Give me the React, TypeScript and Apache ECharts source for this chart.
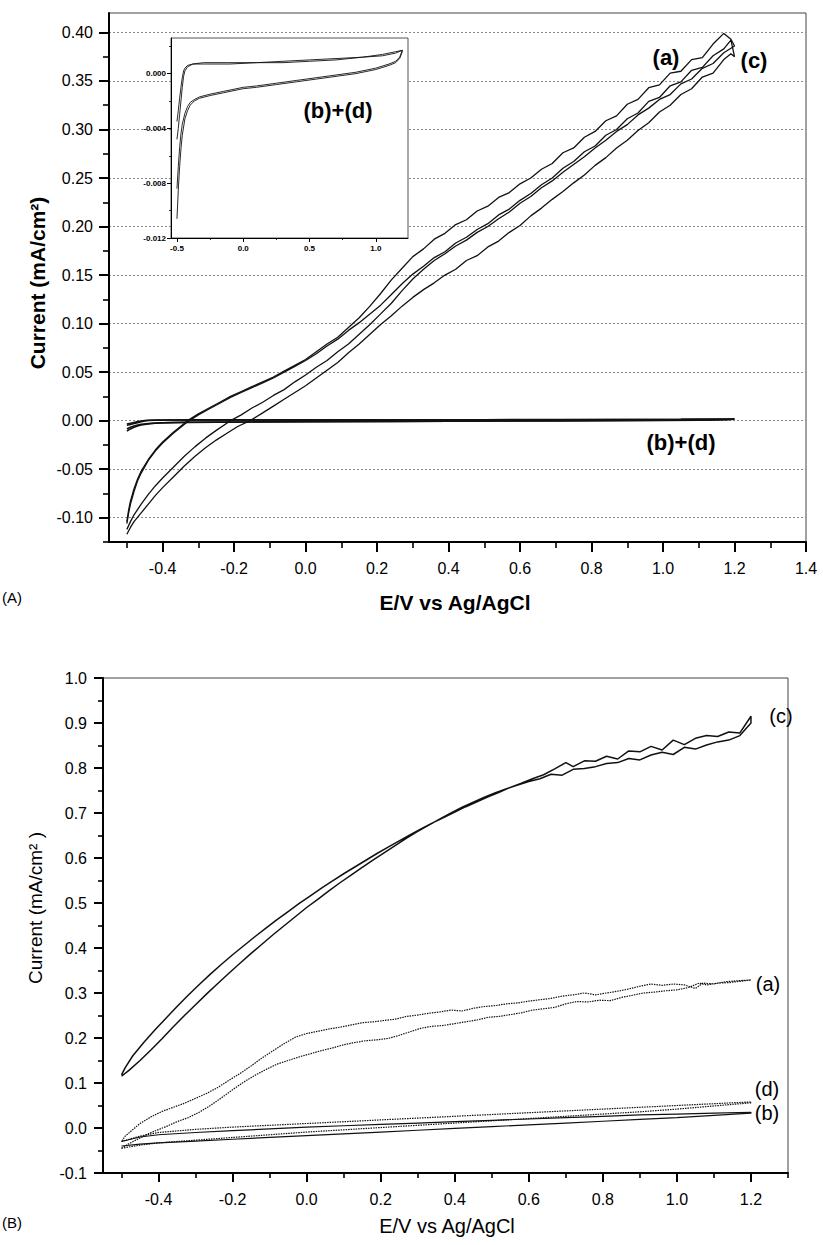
import React, { useEffect, useRef } from "react";
import * as echarts from "echarts";

type P = [number, number];
const FONT = "'Liberation Sans', Arial, Helvetica, sans-serif";

// ---------- Panel A: (a) and (c) cyclic voltammograms ----------
const aFwdA: P[] = [[-0.50,-0.112],[-0.49,-0.104],[-0.48,-0.097],[-0.46,-0.086],[-0.44,-0.076],[-0.42,-0.067],[-0.40,-0.059],[-0.37,-0.048],[-0.34,-0.037],[-0.31,-0.027],[-0.28,-0.018],[-0.25,-0.010],[-0.21,0.000],[-0.18,0.006],[-0.15,0.013],[-0.12,0.019],[-0.09,0.026],[-0.06,0.032],[-0.03,0.040],[0.00,0.047],[0.03,0.055],[0.06,0.062],[0.09,0.071],[0.12,0.079],[0.15,0.089],[0.18,0.099],[0.21,0.110],[0.24,0.121],[0.27,0.134],[0.30,0.146],[0.33,0.156],[0.36,0.165],[0.39,0.172],[0.42,0.180],[0.45,0.186],[0.48,0.194],[0.51,0.200],[0.54,0.208],[0.57,0.215],[0.60,0.224],[0.63,0.231],[0.66,0.240],[0.69,0.247],[0.72,0.256],[0.75,0.264],[0.78,0.272],[0.81,0.281],[0.84,0.289],[0.87,0.298],[0.90,0.305],[0.93,0.315],[0.96,0.322],[0.99,0.331],[1.02,0.336],[1.05,0.347],[1.08,0.352],[1.11,0.363],[1.14,0.368],[1.17,0.379],[1.20,0.386]];
const aRevA: P[] = [[-0.50,-0.104],[-0.495,-0.092],[-0.49,-0.083],[-0.48,-0.070],[-0.47,-0.060],[-0.46,-0.052],[-0.44,-0.040],[-0.42,-0.030],[-0.40,-0.022],[-0.37,-0.012],[-0.33,0.000],[-0.30,0.007],[-0.27,0.013],[-0.24,0.019],[-0.21,0.025],[-0.18,0.030],[-0.15,0.035],[-0.12,0.040],[-0.09,0.045],[-0.06,0.051],[-0.03,0.057],[0.00,0.063],[0.03,0.071],[0.06,0.079],[0.09,0.086],[0.12,0.096],[0.15,0.106],[0.18,0.118],[0.21,0.131],[0.24,0.145],[0.27,0.157],[0.30,0.169],[0.33,0.177],[0.36,0.187],[0.39,0.193],[0.42,0.202],[0.45,0.207],[0.48,0.216],[0.51,0.221],[0.54,0.230],[0.57,0.235],[0.60,0.244],[0.63,0.250],[0.66,0.259],[0.69,0.265],[0.72,0.276],[0.75,0.281],[0.78,0.292],[0.81,0.298],[0.84,0.309],[0.87,0.314],[0.90,0.326],[0.93,0.331],[0.96,0.343],[0.99,0.346],[1.02,0.358],[1.05,0.360],[1.08,0.372],[1.11,0.374],[1.14,0.388],[1.17,0.399],[1.19,0.393],[1.20,0.386]];
const cFwdA: P[] = [[-0.50,-0.117],[-0.49,-0.110],[-0.48,-0.104],[-0.46,-0.095],[-0.44,-0.086],[-0.42,-0.077],[-0.40,-0.069],[-0.37,-0.058],[-0.34,-0.047],[-0.31,-0.037],[-0.28,-0.028],[-0.25,-0.020],[-0.22,-0.013],[-0.19,-0.006],[-0.155,0.000],[-0.12,0.008],[-0.09,0.015],[-0.06,0.022],[-0.03,0.029],[0.00,0.036],[0.03,0.044],[0.06,0.052],[0.09,0.060],[0.12,0.070],[0.15,0.079],[0.18,0.089],[0.21,0.099],[0.24,0.108],[0.27,0.118],[0.30,0.127],[0.33,0.135],[0.36,0.142],[0.39,0.150],[0.42,0.156],[0.45,0.165],[0.48,0.170],[0.51,0.179],[0.54,0.185],[0.57,0.194],[0.60,0.201],[0.63,0.211],[0.66,0.219],[0.69,0.228],[0.72,0.236],[0.75,0.245],[0.78,0.253],[0.81,0.263],[0.84,0.271],[0.87,0.281],[0.90,0.289],[0.93,0.299],[0.96,0.307],[0.99,0.318],[1.02,0.325],[1.05,0.336],[1.08,0.342],[1.11,0.354],[1.14,0.358],[1.17,0.372],[1.19,0.378],[1.20,0.375]];
const cRevA: P[] = [[-0.50,-0.106],[-0.495,-0.095],[-0.49,-0.086],[-0.48,-0.073],[-0.47,-0.062],[-0.46,-0.054],[-0.44,-0.041],[-0.42,-0.031],[-0.40,-0.023],[-0.37,-0.013],[-0.33,-0.001],[-0.30,0.006],[-0.27,0.012],[-0.24,0.018],[-0.21,0.024],[-0.18,0.029],[-0.15,0.034],[-0.12,0.039],[-0.09,0.044],[-0.06,0.050],[-0.03,0.056],[0.00,0.062],[0.03,0.069],[0.06,0.077],[0.09,0.084],[0.12,0.093],[0.15,0.101],[0.18,0.110],[0.21,0.119],[0.24,0.130],[0.27,0.141],[0.30,0.151],[0.33,0.159],[0.36,0.168],[0.39,0.174],[0.42,0.183],[0.45,0.189],[0.48,0.197],[0.51,0.203],[0.54,0.212],[0.57,0.218],[0.60,0.227],[0.63,0.234],[0.66,0.243],[0.69,0.250],[0.72,0.260],[0.75,0.267],[0.78,0.277],[0.81,0.283],[0.84,0.294],[0.87,0.300],[0.90,0.311],[0.93,0.317],[0.96,0.329],[0.99,0.333],[1.02,0.345],[1.05,0.349],[1.08,0.361],[1.11,0.364],[1.14,0.376],[1.17,0.383],[1.19,0.392],[1.20,0.375]];

// ---------- Panel A: (b) and (d), also shown in the inset ----------
const bFwdA: P[] = [[-0.50,-0.0106],[-0.49,-0.0085],[-0.48,-0.0068],[-0.47,-0.0055],[-0.46,-0.0045],[-0.44,-0.0033],[-0.42,-0.0027],[-0.40,-0.0023],[-0.37,-0.0020],[-0.33,-0.0018],[-0.25,-0.0016],[-0.15,-0.0014],[0.00,-0.0011],[0.10,-0.0010],[0.25,-0.0008],[0.40,-0.0006],[0.55,-0.0004],[0.70,-0.0002],[0.85,0.0000],[1.00,0.0003],[1.10,0.0006],[1.15,0.0008],[1.18,0.0011],[1.20,0.0016]];
const bRevA: P[] = [[-0.50,-0.0048],[-0.49,-0.0040],[-0.48,-0.0030],[-0.47,-0.0020],[-0.46,-0.0010],[-0.45,-0.0002],[-0.44,0.0002],[-0.42,0.0005],[-0.38,0.0007],[-0.30,0.0008],[-0.10,0.0008],[0.10,0.0008],[0.30,0.0009],[0.50,0.0010],[0.70,0.0011],[0.90,0.0012],[1.05,0.0014],[1.15,0.0016],[1.20,0.0017]];
const dFwdA: P[] = [[-0.50,-0.0084],[-0.49,-0.0068],[-0.48,-0.0054],[-0.47,-0.0044],[-0.46,-0.0037],[-0.44,-0.0029],[-0.42,-0.0024],[-0.40,-0.0021],[-0.37,-0.0019],[-0.33,-0.0017],[-0.25,-0.0015],[-0.15,-0.0013],[0.00,-0.0010],[0.10,-0.0009],[0.25,-0.0007],[0.40,-0.0005],[0.55,-0.0003],[0.70,-0.0001],[0.85,0.0001],[1.00,0.0004],[1.10,0.0007],[1.15,0.0009],[1.18,0.0012],[1.20,0.0017]];
const dRevA: P[] = [[-0.50,-0.0035],[-0.49,-0.0027],[-0.48,-0.0018],[-0.47,-0.0010],[-0.46,-0.0003],[-0.45,0.0002],[-0.44,0.0004],[-0.42,0.0006],[-0.38,0.0007],[-0.30,0.0007],[-0.10,0.0007],[0.10,0.0008],[0.30,0.0008],[0.50,0.0009],[0.70,0.0010],[0.90,0.0012],[1.05,0.0013],[1.15,0.0015],[1.20,0.0017]];

// ---------- Panel B ----------
const cFwdB: P[] = [[-0.50,0.115],[-0.48,0.128],[-0.45,0.150],[-0.42,0.174],[-0.39,0.199],[-0.36,0.225],[-0.33,0.250],[-0.30,0.274],[-0.27,0.298],[-0.24,0.321],[-0.21,0.344],[-0.18,0.366],[-0.15,0.388],[-0.12,0.409],[-0.09,0.430],[-0.06,0.450],[-0.03,0.470],[0.00,0.490],[0.03,0.508],[0.06,0.527],[0.09,0.545],[0.12,0.562],[0.15,0.579],[0.18,0.596],[0.21,0.612],[0.24,0.628],[0.27,0.644],[0.30,0.659],[0.33,0.673],[0.36,0.687],[0.39,0.700],[0.42,0.713],[0.45,0.724],[0.48,0.735],[0.51,0.745],[0.54,0.754],[0.57,0.762],[0.60,0.770],[0.63,0.776],[0.66,0.786],[0.69,0.784],[0.72,0.797],[0.75,0.799],[0.78,0.803],[0.81,0.810],[0.84,0.812],[0.87,0.821],[0.90,0.818],[0.93,0.829],[0.96,0.835],[0.99,0.830],[1.02,0.846],[1.05,0.842],[1.08,0.851],[1.11,0.858],[1.14,0.862],[1.17,0.872],[1.20,0.900]];
const cRevB: P[] = [[-0.50,0.118],[-0.49,0.134],[-0.47,0.160],[-0.44,0.190],[-0.41,0.218],[-0.38,0.244],[-0.35,0.270],[-0.32,0.295],[-0.29,0.319],[-0.26,0.342],[-0.23,0.364],[-0.20,0.385],[-0.17,0.405],[-0.14,0.425],[-0.11,0.444],[-0.08,0.463],[-0.05,0.481],[-0.02,0.499],[0.01,0.516],[0.04,0.533],[0.07,0.549],[0.10,0.565],[0.13,0.580],[0.16,0.595],[0.19,0.610],[0.22,0.624],[0.25,0.638],[0.28,0.652],[0.31,0.665],[0.34,0.678],[0.37,0.690],[0.40,0.702],[0.43,0.714],[0.46,0.725],[0.49,0.736],[0.52,0.746],[0.55,0.757],[0.58,0.766],[0.61,0.776],[0.64,0.785],[0.67,0.798],[0.70,0.812],[0.72,0.803],[0.75,0.816],[0.78,0.815],[0.81,0.826],[0.84,0.820],[0.87,0.838],[0.90,0.836],[0.93,0.848],[0.96,0.840],[0.99,0.862],[1.02,0.852],[1.05,0.866],[1.08,0.872],[1.11,0.870],[1.14,0.880],[1.17,0.878],[1.20,0.915]];
const aFwdB: P[] = [[-0.50,-0.045],[-0.48,-0.035],[-0.45,-0.022],[-0.42,-0.010],[-0.38,0.003],[-0.35,0.014],[-0.32,0.023],[-0.29,0.035],[-0.26,0.050],[-0.23,0.067],[-0.20,0.085],[-0.17,0.102],[-0.14,0.117],[-0.11,0.130],[-0.08,0.142],[-0.05,0.150],[-0.02,0.158],[0.01,0.165],[0.04,0.172],[0.07,0.178],[0.10,0.185],[0.13,0.190],[0.16,0.194],[0.19,0.196],[0.22,0.199],[0.25,0.206],[0.28,0.214],[0.31,0.222],[0.34,0.226],[0.37,0.228],[0.40,0.232],[0.43,0.236],[0.46,0.240],[0.49,0.246],[0.52,0.248],[0.55,0.252],[0.58,0.256],[0.61,0.262],[0.64,0.265],[0.67,0.268],[0.70,0.276],[0.73,0.281],[0.76,0.280],[0.79,0.284],[0.82,0.283],[0.85,0.290],[0.88,0.295],[0.91,0.300],[0.94,0.302],[0.97,0.305],[1.00,0.307],[1.03,0.312],[1.06,0.322],[1.08,0.318],[1.11,0.322],[1.14,0.323],[1.17,0.326],[1.20,0.329]];
const aRevB: P[] = [[-0.50,-0.030],[-0.49,-0.018],[-0.47,-0.004],[-0.45,0.010],[-0.42,0.025],[-0.39,0.037],[-0.36,0.046],[-0.33,0.055],[-0.30,0.066],[-0.27,0.077],[-0.24,0.090],[-0.21,0.106],[-0.18,0.121],[-0.15,0.138],[-0.12,0.156],[-0.09,0.172],[-0.06,0.188],[-0.03,0.202],[0.00,0.210],[0.03,0.215],[0.06,0.220],[0.09,0.224],[0.12,0.229],[0.15,0.234],[0.18,0.236],[0.21,0.239],[0.24,0.242],[0.27,0.248],[0.30,0.251],[0.33,0.255],[0.36,0.258],[0.39,0.262],[0.42,0.260],[0.45,0.266],[0.48,0.270],[0.51,0.272],[0.54,0.276],[0.57,0.278],[0.60,0.282],[0.63,0.285],[0.66,0.288],[0.69,0.293],[0.72,0.296],[0.75,0.300],[0.78,0.296],[0.81,0.300],[0.84,0.304],[0.87,0.309],[0.90,0.315],[0.93,0.320],[0.96,0.317],[0.99,0.320],[1.02,0.318],[1.05,0.310],[1.07,0.322],[1.10,0.320],[1.13,0.325],[1.16,0.327],[1.20,0.329]];
const dFwdB: P[] = [[-0.50,-0.045],[-0.45,-0.038],[-0.40,-0.033],[-0.30,-0.027],[-0.20,-0.021],[-0.10,-0.015],[0.00,-0.009],[0.10,-0.004],[0.20,0.001],[0.30,0.006],[0.40,0.011],[0.50,0.016],[0.60,0.021],[0.70,0.026],[0.80,0.031],[0.90,0.036],[1.00,0.042],[1.10,0.049],[1.20,0.056]];
const dRevB: P[] = [[-0.50,-0.030],[-0.45,-0.018],[-0.40,-0.010],[-0.30,-0.003],[-0.20,0.002],[-0.10,0.006],[0.00,0.010],[0.10,0.014],[0.20,0.018],[0.30,0.022],[0.40,0.026],[0.50,0.030],[0.60,0.034],[0.70,0.038],[0.80,0.042],[0.90,0.046],[1.00,0.050],[1.10,0.054],[1.20,0.058]];
const bFwdB: P[] = [[-0.50,-0.040],[-0.45,-0.036],[-0.40,-0.033],[-0.30,-0.029],[-0.20,-0.025],[-0.10,-0.021],[0.00,-0.017],[0.10,-0.013],[0.20,-0.009],[0.30,-0.005],[0.40,-0.001],[0.50,0.003],[0.60,0.007],[0.70,0.011],[0.80,0.015],[0.90,0.019],[1.00,0.023],[1.10,0.028],[1.20,0.033]];
const bRevB: P[] = [[-0.50,-0.030],[-0.45,-0.020],[-0.40,-0.015],[-0.30,-0.010],[-0.20,-0.006],[-0.10,-0.002],[0.00,0.002],[0.10,0.005],[0.20,0.008],[0.30,0.011],[0.40,0.014],[0.50,0.017],[0.60,0.020],[0.70,0.023],[0.80,0.026],[0.90,0.029],[1.00,0.031],[1.10,0.033],[1.20,0.035]];

// ---------- Tick values ----------
const xMajorA = [-0.4, -0.2, 0, 0.2, 0.4, 0.6, 0.8, 1.0, 1.2, 1.4];
const xMinorA = [-0.5, -0.3, -0.1, 0.1, 0.3, 0.5, 0.7, 0.9, 1.1, 1.3];
const yMajorA = [-0.1, -0.05, 0, 0.05, 0.1, 0.15, 0.2, 0.25, 0.3, 0.35, 0.4];
const yMinorA = [-0.125, -0.075, -0.025, 0.025, 0.075, 0.125, 0.175, 0.225, 0.275, 0.325, 0.375];
const xMajorIn = [-0.5, 0, 0.5, 1.0];
const xMinorIn = [-0.25, 0.25, 0.75];
const yMajorIn = [-0.012, -0.008, -0.004, 0];
const yMinorIn = [-0.01, -0.006, -0.002, 0.002];
const xMajorB = [-0.4, -0.2, 0, 0.2, 0.4, 0.6, 0.8, 1.0, 1.2];
const xMinorB = [-0.5, -0.3, -0.1, 0.1, 0.3, 0.5, 0.7, 0.9, 1.1, 1.3];

const loop = (fwd: P[], rev: P[]) => fwd.concat(rev.slice().reverse());

function valAxis(o: any) {
  const { grid, min, max, majors, minors, fmt, pos, fontSize, margin, lw, majLen, minLen, split, z } = o;
  const major: any = {
    type: "value", gridIndex: grid, min, max, position: pos, z,
    axisLine: { show: true, onZero: false, lineStyle: { color: "#000", width: lw } },
    axisTick: { show: true, customValues: majors, length: majLen, lineStyle: { color: "#000", width: lw } },
    axisLabel: { show: true, customValues: majors, formatter: (v: number) => v.toFixed(fmt), fontSize, fontFamily: FONT, color: "#000", margin, fontWeight: o.bold ? "bold" : "normal" },
    splitLine: split ? { show: true, lineStyle: { color: "#8a8a8a", type: [2, 2], width: 1 } } : { show: false },
    minorTick: { show: false }, minorSplitLine: { show: false },
  };
  const minor: any = {
    type: "value", gridIndex: grid, min, max, position: pos, z,
    axisLine: { show: false, onZero: false },
    axisTick: { show: true, customValues: minors, length: minLen, lineStyle: { color: "#000", width: lw * 0.8 } },
    axisLabel: { show: false }, splitLine: { show: false },
  };
  return [major, minor];
}

const lineSeries = (data: P[], xi: number, yi: number, width: number, type: any = "solid", z = 2) => ({
  type: "line", xAxisIndex: xi, yAxisIndex: yi, data, showSymbol: false, symbol: "none",
  lineStyle: { color: "#111", width, type }, z, silent: true, clip: true,
});

const txt = (text: string, x: number, y: number, size: number, bold = false, rotation = 0) => ({
  type: "text", x, y, rotation, silent: true, z: 20,
  style: { text, fill: "#000", font: `${bold ? "bold " : ""}${size}px ${FONT}`, align: "center", verticalAlign: "middle" },
});

export default function App() {
  const ref = useRef<HTMLDivElement>(null);
  useEffect(() => {
    document.body.style.margin = "0";
    const chart = echarts.init(ref.current!, null, { renderer: "svg" });
    const [xA, xAm] = valAxis({ grid: 0, min: -0.55, max: 1.4, majors: xMajorA, minors: xMinorA, fmt: 1, pos: "bottom", fontSize: 16, margin: 18, lw: 2, majLen: 10, minLen: 6 });
    const [yA, yAm] = valAxis({ grid: 0, min: -0.125, max: 0.42, majors: yMajorA, minors: yMinorA, fmt: 2, pos: "left", fontSize: 16, margin: 16, lw: 2, majLen: 10, minLen: 6, split: true });
    const [xI, xIm] = valAxis({ grid: 1, min: -0.545, max: 1.243, majors: xMajorIn, minors: xMinorIn, fmt: 1, pos: "bottom", fontSize: 8, margin: 6, lw: 1, majLen: 4, minLen: 2, bold: true, z: 6 });
    const [yI, yIm] = valAxis({ grid: 1, min: -0.012, max: 0.0026, majors: yMajorIn, minors: yMinorIn, fmt: 3, pos: "left", fontSize: 8, margin: 5, lw: 1, majLen: 4, minLen: 2, bold: true, z: 6 });
    const [xB, xBm] = valAxis({ grid: 2, min: -0.55, max: 1.3, majors: xMajorB, minors: xMinorB, fmt: 1, pos: "bottom", fontSize: 16, margin: 18, lw: 2, majLen: 9, minLen: 5 });
    const yB: any = {
      type: "value", gridIndex: 2, min: -0.1, max: 1.0, interval: 0.1, position: "left",
      axisLine: { show: true, onZero: false, lineStyle: { color: "#000", width: 2 } },
      axisTick: { show: true, length: 9, lineStyle: { color: "#000", width: 2 } },
      minorTick: { show: true, splitNumber: 2, length: 5, lineStyle: { color: "#000", width: 1.6 } },
      axisLabel: { formatter: (v: number) => v.toFixed(1), fontSize: 16, fontFamily: FONT, color: "#000", margin: 16 },
      splitLine: { show: false },
    };

    const option: any = {
      animation: false,
      backgroundColor: "#fff",
      grid: [
        { left: 109, top: 13, width: 697, height: 529, show: true, borderColor: "#444", borderWidth: 1, backgroundColor: "transparent", containLabel: false, outerBoundsMode: "none" },
        { left: 171, top: 38, width: 237, height: 200, show: true, borderColor: "#555", borderWidth: 1, backgroundColor: "#fff", containLabel: false, outerBoundsMode: "none", z: 4 },
        { left: 103, top: 678, width: 685, height: 495, show: true, borderColor: "#444", borderWidth: 1, backgroundColor: "transparent", containLabel: false, outerBoundsMode: "none" },
      ],
      xAxis: [xA, xAm, xI, xIm, xB, xBm],
      yAxis: [yA, yAm, yI, yIm, yB],
      series: [
        lineSeries(loop(aFwdA, aRevA), 0, 0, 1.3),
        lineSeries(loop(cFwdA, cRevA), 0, 0, 1.3),
        lineSeries(loop(bFwdA, bRevA), 0, 0, 1.6),
        lineSeries(loop(dFwdA, dRevA), 0, 0, 1.6),
        lineSeries(loop(bFwdA, bRevA), 2, 2, 0.9, "solid", 8),
        lineSeries(loop(dFwdA, dRevA), 2, 2, 0.9, "solid", 8),
        lineSeries(loop(cFwdB, cRevB), 4, 4, 1.5),
        lineSeries(loop(aFwdB, aRevB), 4, 4, 1.2, [1.5, 1]),
        lineSeries(loop(dFwdB, dRevB), 4, 4, 1.2, [1.5, 1]),
        lineSeries(loop(bFwdB, bRevB), 4, 4, 1.2),
      ],
      graphic: [
        txt("Current (mA/cm²)", 37, 283, 21, true, Math.PI / 2),
        txt("E/V vs Ag/AgCl", 455, 602, 21, true),
        txt("(A)", 12, 597, 15),
        txt("(a)", 666, 57, 22, true),
        txt("(c)", 754, 60, 22, true),
        txt("(b)+(d)", 681, 442, 22, true),
        txt("(b)+(d)", 338, 110, 22, true),
        txt("Current (mA/cm² )", 35, 908, 19, false, Math.PI / 2),
        txt("E/V vs Ag/AgCl", 447, 1226, 20),
        txt("(B)", 12, 1222, 15),
        txt("(c)", 781, 716, 20),
        txt("(a)", 768, 984, 20),
        txt("(d)", 767, 1089, 20),
        txt("(b)", 767, 1113, 20),
      ],
    };
    chart.setOption(option);
    return () => chart.dispose();
  }, []);
  return <div ref={ref} style={{ width: 823, height: 1245 }} />;
}
